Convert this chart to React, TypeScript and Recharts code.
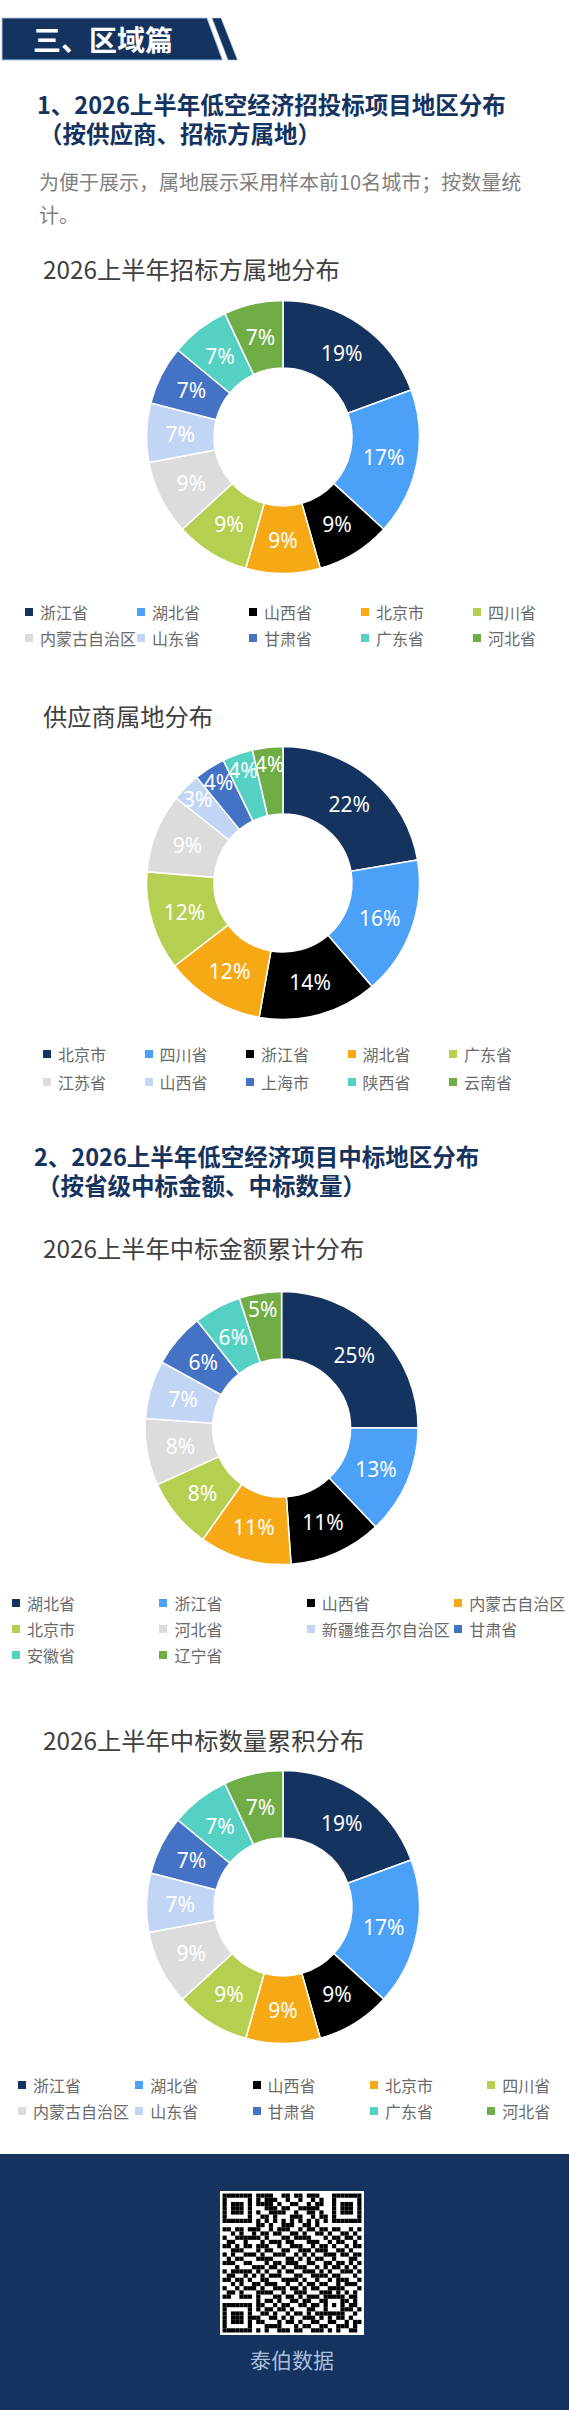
import React from 'react';
import { PieChart, Pie, Legend } from 'recharts';

const COLORS = ['#14335f', '#4ba1f8', '#000000', '#f6a815', '#b5cf50', '#dcdcdc', '#c3d5f4', '#4472c4', '#55d1c3', '#70ad47'];

const bidderNames = ['浙江省', '湖北省', '山西省', '北京市', '四川省', '内蒙古自治区', '山东省', '甘肃省', '广东省', '河北省'];
const bidderValues = [19.4, 17.4, 8.8, 8.8, 8.8, 8.8, 7, 7, 7, 7];

const supplierNames = ['北京市', '四川省', '浙江省', '湖北省', '广东省', '江苏省', '山西省', '上海市', '陕西省', '云南省'];
const supplierValues = [22.3, 16.4, 14.1, 11.8, 11.7, 9.4, 3.4, 3.7, 3.6, 3.6];

const amountNames = ['湖北省', '浙江省', '山西省', '内蒙古自治区', '北京市', '河北省', '新疆维吾尔自治区', '甘肃省', '安徽省', '辽宁省'];
const amountValues = [25.0, 12.9, 11, 10.9, 8.4, 7.9, 6.9, 6.4, 5.6, 5.0];

const countNames = ['浙江省', '湖北省', '山西省', '北京市', '四川省', '内蒙古自治区', '山东省', '甘肃省', '广东省', '河北省'];
const countValues = [19.4, 17.4, 8.8, 8.8, 8.8, 8.8, 7, 7, 7, 7];

const QR_ROWS = [
  '111111101111001101101110001111111',
  '100000101011100100100101001000001',
  '101110101111010011001011001011101',
  '101110100011101100111110001011101',
  '101110101001111001001101001011101',
  '100000100110100011100101101000001',
  '111111101010101010101010101111111',
  '000000001101001110011010000000000',
  '110110111001011100101101101100101',
  '001010010110110011010011010011010',
  '100111111010001101111000101101101',
  '011001000101110110001110010110010',
  '110101101110010011100101101001011',
  '001110001011001100111011100110100',
  '101001110100111001010100111011011',
  '010110001111000110101011001000110',
  '111001100010110111001100110110101',
  '000100011101101001110010101101010',
  '101111101010010110011101010011101',
  '011001010101110001100111101100010',
  '110110100110001111010010010111001',
  '001010011011100100101101100101110',
  '100101110100111011010110011110001',
  '011010001111001001110001110101010',
  '110011101000110110101110111110110',
  '000000001011010011011001100011010',
  '111111101100101100110110101010110',
  '100000101011011010001100100011101',
  '101110100110100101101011111110010',
  '101110111001101010011101010110100',
  '101110101100010110100110011001011',
  '100000100011110001011001100111010',
  '111111101010011101100111010100110',
];

const textFont = '"Noto Sans CJK SC", sans-serif';
const R_OUTER = 136.5;
const R_INNER = 69;

// the thin slices push their label out towards the rim
function PercentLabel(props: any) {
  const { cx, cy, midAngle, innerRadius, outerRadius, percent } = props;
  const r = percent < 0.05 ? 120 : (innerRadius + outerRadius) / 2;
  const a = (midAngle * Math.PI) / 180;
  return (
    <text
      x={cx + r * Math.cos(a)}
      y={cy - r * Math.sin(a)}
      fill="#fff"
      fontSize={21}
      fontFamily='"Noto Sans", sans-serif'
      textAnchor="middle"
      dominantBaseline="central"
    >
      {Math.round(percent * 100)}%
    </text>
  );
}

function GridLegend({ payload, columns, pitch, rowHeight }: any) {
  return (
    <div style={{ display: 'grid', gridTemplateColumns: `repeat(${columns}, ${pitch}px)`, gridAutoRows: rowHeight }}>
      {(payload || []).map((item: any) => (
        <div key={item.value} style={{ display: 'flex', alignItems: 'center', whiteSpace: 'nowrap' }}>
          <span style={{ width: 8, height: 8, background: item.color, marginRight: 7, flex: 'none' }} />
          <span style={{ fontFamily: textFont, fontSize: 16, color: '#6a6a6a', lineHeight: 1 }}>{item.value}</span>
        </div>
      ))}
    </div>
  );
}

function Donut({ names, values, title, titleY, cx, cy, legendX, legendY, columns, pitch, rowHeight }: any) {
  const data = names.map((name: string, i: number) => ({ name, value: values[i], fill: COLORS[i] }));
  const chartTop = cy - 150;
  return (
    <>
      <div
        style={{
          position: 'absolute',
          left: 43,
          top: titleY - 16,
          height: 32,
          lineHeight: '32px',
          fontFamily: textFont,
          fontSize: 24.3,
          color: '#404040',
          whiteSpace: 'nowrap',
        }}
      >
        {title}
      </div>
      <div style={{ position: 'absolute', left: 0, top: chartTop }}>
        <PieChart width={569} height={370} margin={{ top: 0, right: 0, bottom: 0, left: 0 }}>
          <Pie
            data={data}
            dataKey="value"
            nameKey="name"
            cx={cx}
            cy={150}
            innerRadius={R_INNER}
            outerRadius={R_OUTER}
            startAngle={90}
            endAngle={-270}
            stroke="#fff"
            strokeWidth={1.5}
            label={PercentLabel}
            labelLine={false}
            isAnimationActive={false}
          />
          <Legend
            layout="horizontal"
            verticalAlign="middle"
            itemSorter={null}
            wrapperStyle={{ left: legendX, top: legendY - rowHeight / 2 - chartTop, width: 569 - legendX }}
            content={(p: any) => <GridLegend payload={p.payload} columns={columns} pitch={pitch} rowHeight={rowHeight} />}
          />
        </PieChart>
      </div>
    </>
  );
}

function Heading({ x, y, children }: any) {
  return (
    <div
      style={{
        position: 'absolute',
        left: x,
        top: y - 18,
        height: 36,
        lineHeight: '36px',
        fontFamily: textFont,
        fontWeight: 700,
        fontSize: 23.5,
        color: '#14335f',
        whiteSpace: 'nowrap',
      }}
    >
      {children}
    </div>
  );
}

function Para({ y, children }: any) {
  return (
    <div
      style={{
        position: 'absolute',
        left: 39,
        top: y - 16,
        height: 32,
        lineHeight: '32px',
        fontFamily: textFont,
        fontSize: 20,
        color: '#7f7f7f',
        whiteSpace: 'nowrap',
      }}
    >
      {children}
    </div>
  );
}

export default function App() {
  return (
    <div style={{ position: 'absolute', left: 0, top: 0, width: 569, height: 2430, background: '#fff', overflow: 'hidden' }}>
      <svg width={260} height={70} style={{ position: 'absolute', left: 0, top: 0 }}>
        <polygon points="2,18 207,18 222.5,60 2,60" fill="#14335f" stroke="#a9c4e4" strokeWidth={1} />
        <polygon points="212,18 221,18 237.5,60 228,60" fill="#14335f" stroke="#a9c4e4" strokeWidth={0.6} />
      </svg>
      <div
        style={{
          position: 'absolute',
          left: 33,
          top: 19,
          height: 40,
          lineHeight: '40px',
          fontFamily: textFont,
          fontWeight: 700,
          fontSize: 28,
          color: '#fff',
          whiteSpace: 'nowrap',
        }}
      >
        三、区域篇
      </div>

      <Heading x={37} y={104}>1、2026上半年低空经济招投标项目地区分布</Heading>
      <Heading x={39} y={133}>（按供应商、招标方属地）</Heading>
      <Para y={182}>为便于展示，属地展示采用样本前10名城市；按数量统</Para>
      <Para y={214.5}>计。</Para>

      <Donut
        names={bidderNames}
        values={bidderValues}
        title="2026上半年招标方属地分布"
        titleY={269}
        cx={283}
        cy={436.5}
        legendX={25}
        legendY={612}
        columns={5}
        pitch={112}
        rowHeight={26}
      />
      <Donut
        names={supplierNames}
        values={supplierValues}
        title="供应商属地分布"
        titleY={716}
        cx={283}
        cy={882.7}
        legendX={43}
        legendY={1053.6}
        columns={5}
        pitch={101.5}
        rowHeight={28}
      />

      <Heading x={34} y={1155.7}>2、2026上半年低空经济项目中标地区分布</Heading>
      <Heading x={37} y={1185}>（按省级中标金额、中标数量）</Heading>

      <Donut
        names={amountNames}
        values={amountValues}
        title="2026上半年中标金额累计分布"
        titleY={1248}
        cx={281.6}
        cy={1427.5}
        legendX={12}
        legendY={1602.7}
        columns={4}
        pitch={147.4}
        rowHeight={26}
      />
      <Donut
        names={countNames}
        values={countValues}
        title="2026上半年中标数量累积分布"
        titleY={1739.5}
        cx={283}
        cy={1906.8}
        legendX={18}
        legendY={2084.7}
        columns={5}
        pitch={117.3}
        rowHeight={26.3}
      />

      <div style={{ position: 'absolute', left: 0, top: 2153.5, width: 569, height: 256.5, background: '#14335f' }} />
      <svg width={144} height={144} viewBox="-0.6 -0.6 34.2 34.2" style={{ position: 'absolute', left: 220, top: 2191, background: '#fff' }}>
        {QR_ROWS.map((row, r) =>
          row.split('').map((c, i) => (c === '1' ? <rect key={`${r}-${i}`} x={i} y={r} width={1} height={1} fill="#000" /> : null)),
        )}
      </svg>
      <div
        style={{
          position: 'absolute',
          left: 0,
          width: 584,
          textAlign: 'center',
          top: 2344,
          height: 30,
          lineHeight: '30px',
          fontFamily: textFont,
          fontSize: 21,
          color: '#a9bfdc',
        }}
      >
        泰伯数据
      </div>
    </div>
  );
}
